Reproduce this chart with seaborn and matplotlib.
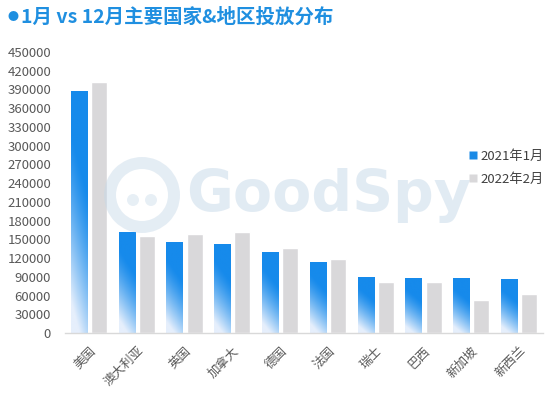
import numpy as np
import pandas as pd
import matplotlib
matplotlib.use("Agg")
import matplotlib.pyplot as plt
from matplotlib.patches import Circle, Wedge
from matplotlib.lines import Line2D
import seaborn as sns

categories = ["美国", "澳大利亚", "英国", "加拿大", "德国", "法国", "瑞士", "巴西", "新加坡", "新西兰"]
series_names = ["2021年1月", "2022年2月"]
jan_2021 = [388000, 162000, 145000, 143000, 129000, 114000, 89000, 88000, 88000, 86000]
feb_2022 = [402000, 155000, 159000, 162000, 136000, 119000, 82000, 81000, 53000, 63000]
yticks = list(range(0, 450001, 30000))

sns.set_theme(style="white")
plt.rcParams['font.family'] = ['Noto Sans CJK SC', 'DejaVu Sans']

df = pd.DataFrame({
    "国家": categories * 2,
    "值": jan_2021 + feb_2022,
    "系列": [series_names[0]] * len(categories) + [series_names[1]] * len(categories),
})

fig = plt.figure(figsize=(5.54, 3.94), dpi=100)
ax = fig.add_axes([65 / 554, 1 - 333 / 394, 478 / 554, (333 - 52) / 394])

blue = "#1a8ae6"
gray = "#d9d8da"
sns.barplot(data=df, x="国家", y="值", hue="系列", palette=[blue, gray],
            width=0.84, gap=0.2, ax=ax, legend=False, saturation=1)

# gradient on blue bars
n = 200
t = np.linspace(0, 1, n)[:, None]
s = np.linspace(0, 1, 20)[None, :]
f = np.clip((t - 0.30 + 0.25 * (0.5 - s)) / 0.70, 0, 1) ** 1.3
top = np.array(matplotlib.colors.to_rgb("#168aeb"))
bot = np.array(matplotlib.colors.to_rgb("#e6effc"))
img = top[None, None, :] * (1 - f[..., None]) + bot[None, None, :] * f[..., None]
blue_patches = ax.patches[:len(categories)]
for p in blue_patches:
    x0, y0 = p.get_x(), p.get_y()
    w, h = p.get_width(), p.get_height()
    im = ax.imshow(img, extent=[x0, x0 + w, y0, y0 + h], aspect="auto",
                   origin="upper", zorder=p.get_zorder() + 0.1, interpolation="bilinear")
    im.set_clip_path(p)
    p.set_facecolor("none")
    p.set_edgecolor("none")
ax.set_ylim(0, 450000)
ax.set_xlim(-0.5, len(categories) - 0.5)

for sp in ["top", "right", "left"]:
    ax.spines[sp].set_visible(False)
ax.spines["bottom"].set_color("#d9d9d9")
ax.spines["bottom"].set_linewidth(1)

ax.set_yticks(yticks)
ax.set_yticklabels([str(v) for v in yticks], fontsize=9.5, color="#595959")
ax.tick_params(axis="y", length=0, pad=10)

ax.set_xticks(range(len(categories)))
ax.set_xticklabels(categories, rotation=45, ha="right", rotation_mode="anchor",
                   fontsize=9, color="#595959")
ax.tick_params(axis="x", which="major", length=0, pad=8)
ax.set_xticks(np.arange(-0.5, len(categories), 1), minor=True)
ax.tick_params(axis="x", which="minor", length=4, color="#d9d9d9", width=1, direction="out")
ax.set_xlabel("")
ax.set_ylabel("")

# legend
handles = [Line2D([], [], marker="s", linestyle="", markersize=6, markerfacecolor=blue, markeredgecolor="none"),
           Line2D([], [], marker="s", linestyle="", markersize=6, markerfacecolor=gray, markeredgecolor="none")]
leg = fig.legend(handles, series_names, loc="upper left", bbox_to_anchor=(457 / 554, 1 - 138 / 394),
                 frameon=False, fontsize=9.5, handlelength=0.6, handletextpad=0.3, labelspacing=0.75)
for txt in leg.get_texts():
    txt.set_color("#404040")

# title
fig.text(8 / 554, 1 - 17 / 394, "●", fontsize=8, color="#1f8fe0", va="center", ha="left")
fig.text(21 / 554, 1 - 17 / 394, "1月 vs 12月主要国家&地区投放分布", fontsize=14, fontweight="bold",
         color="#1f8fe0", va="center", ha="left")

# watermark
wm = "#c5d8e8"
fig.text(186 / 554, 1 - 196 / 394, "GoodSpy", fontsize=41, fontweight="bold", color=wm,
         alpha=0.5, va="center", ha="left", family="DejaVu Sans", zorder=10)
ring = Wedge((142, 394 - 195), 38, 0, 360, width=12, transform=None, facecolor=wm, alpha=0.45,
             edgecolor="none", zorder=10)
fig.patches.append(ring)
for dx in (-9, 9):
    fig.patches.append(Circle((142 + dx, 394 - 200), 6, transform=None, facecolor=wm, alpha=0.4,
                              edgecolor="none", zorder=10))

fig.savefig("out.png", dpi=100)
